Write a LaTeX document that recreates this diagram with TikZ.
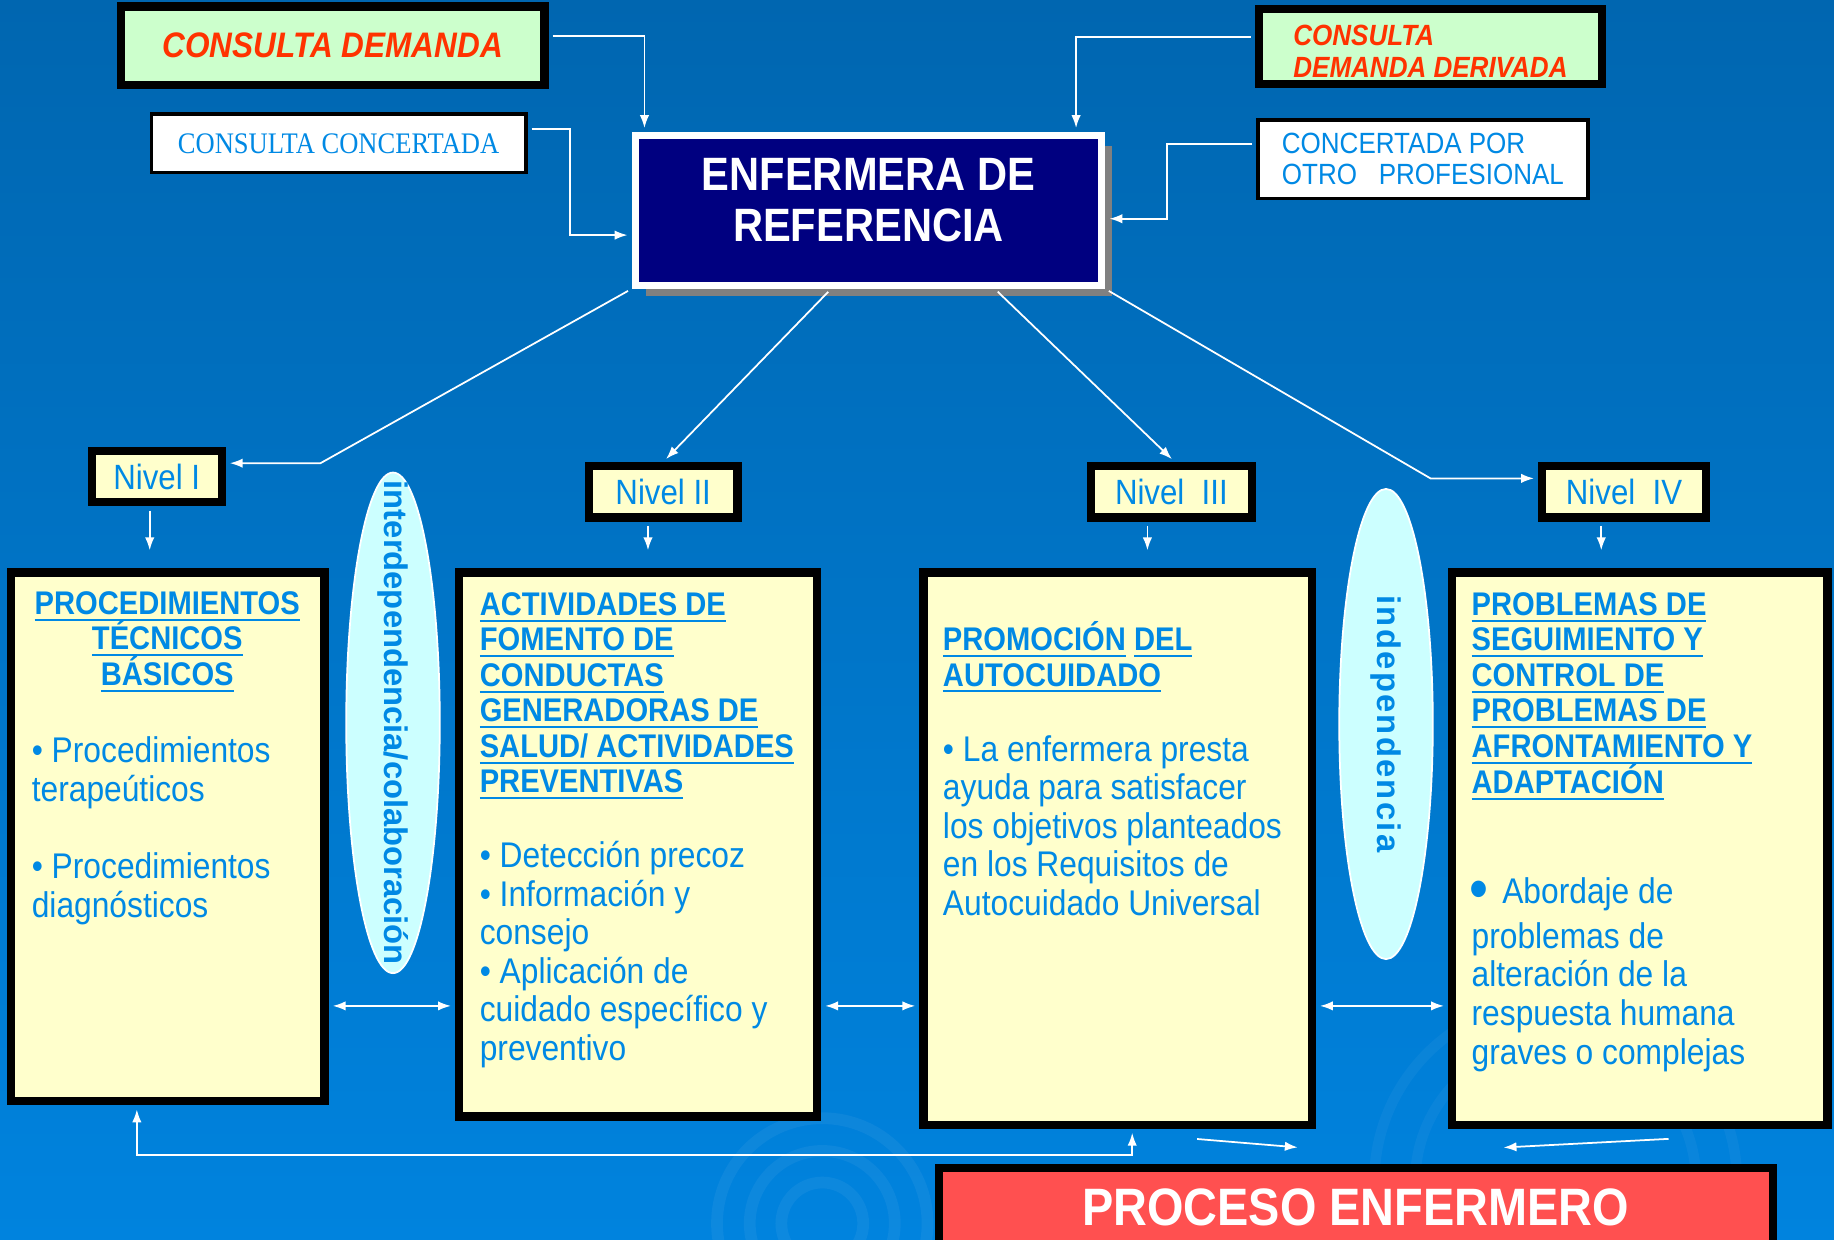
\documentclass[tikz,border=0pt]{standalone}
\usepackage{fontspec}
\usepackage{tikz}
\usetikzlibrary{arrows.meta,shapes.geometric,shadows}
\setmainfont{Liberation Sans}[FakeStretch=0.89]
\newfontfamily\narrowserif{Liberation Serif}[FakeStretch=0.89]
\newfontfamily\plainsans{Liberation Sans}
\newfontfamily\spacedsans{Liberation Sans}[LetterSpace=7]
\definecolor{bgtop}{RGB}{0,102,176}
\definecolor{bgbot}{RGB}{0,131,222}
\definecolor{txtblue}{RGB}{0,137,228}
\definecolor{redtxt}{RGB}{255,51,0}
\definecolor{mint}{RGB}{204,255,204}
\definecolor{cream}{RGB}{255,255,204}
\definecolor{navybox}{RGB}{0,0,128}
\definecolor{paleblue}{RGB}{204,255,255}
\definecolor{redbox}{RGB}{255,80,80}
\newcommand{\topstrut}{\rule{0pt}{26pt}}
\newcommand{\uln}[1]{\setbox0\hbox{#1}\rlap{\rule[-5.5pt]{\wd0}{1.8pt}}\box0\relax}

\begin{document}
\begin{tikzpicture}[x=1pt,y=-1pt,
    conn/.style={white,line width=1.5pt,shorten <=3.5pt,shorten >=3.5pt,-{Latex[length=11pt,width=8pt]}},
    dconn/.style={white,line width=1.5pt,shorten <=3.5pt,shorten >=3.5pt,{Latex[length=11pt,width=8pt]}-{Latex[length=11pt,width=8pt]}},
    greenbox/.style={draw=black,line width=7pt,fill=mint,inner sep=0pt,text=redtxt},
    whitebox/.style={draw=black,line width=3pt,fill=white,inner sep=0pt,text=txtblue},
    levelbox/.style={draw=black,line width=7pt,fill=cream,inner sep=0pt,text=txtblue,font=\fontsize{30}{33}\selectfont},
    bigbox/.style={draw=black,line width=7pt,fill=cream,inner sep=0pt},
    boxtext/.style={anchor=north west,inner sep=0pt,text=txtblue,align=left},
    bubble/.style={ellipse,draw=white,line width=1.5pt,fill=paleblue,inner sep=0pt},
    bubbletext/.style={rotate=-90,inner sep=0pt,text=txtblue}]
    \useasboundingbox (0,0) rectangle (1568,1060);
    \shade[top color=bgtop,middle color=bgtop,bottom color=bgbot] (0,0) rectangle (1568,1060);
    \draw[white,opacity=0.05,line width=10pt] (703,1046) circle (35);
    \draw[white,opacity=0.05,line width=10pt] (703,1046) circle (62);
    \draw[white,opacity=0.05,line width=10pt] (703,1046) circle (90);
    \draw[white,opacity=0.04,line width=9pt] (1330,1010) circle (120);
    \draw[white,opacity=0.04,line width=9pt] (1330,1010) circle (155);

    \node[greenbox,minimum width=362,minimum height=67,font=\fontsize{30.3}{33}\selectfont\bfseries\itshape] (cd) at (284.5,39) {CONSULTA DEMANDA};
    \node[whitebox,minimum width=320,minimum height=50,font=\narrowserif\fontsize{25.5}{28}\selectfont] (cc) at (289.5,122.5) {CONSULTA CONCERTADA};
    \node[greenbox,minimum width=293,minimum height=64,align=left,font=\fontsize{25}{27}\selectfont\bfseries\itshape] (cdd) at (1223,39.5) {\rule{0pt}{26pt}CONSULTA\\DEMANDA DERIVADA};
    \node[whitebox,minimum width=282,minimum height=67,align=left,font=\fontsize{25}{27}\selectfont] (cop) at (1216.5,136) {CONCERTADA POR\\OTRO\ \ \ PROFESIONAL};
    \node[draw=white,line width=6pt,fill=navybox,text=white,inner sep=0pt,align=center,
          font=\fontsize{40}{43}\selectfont\bfseries,minimum width=399,minimum height=128,
          general shadow={fill=gray,shadow xshift=9pt,shadow yshift=-9pt}] (enf) at (742.5,180)
          {ENFERMERA DE\\REFERENCIA\rule[-18pt]{0pt}{18pt}};

    \node[levelbox,minimum width=111,minimum height=44] (n1) at (134,407.5) {Nivel I};
    \node[levelbox,minimum width=127,minimum height=44] (n2) at (567,420.5) {Nivel II};
    \node[levelbox,minimum width=138,minimum height=44] (n3) at (1001.5,420.5) {Nivel\ \ III};
    \node[levelbox,minimum width=140,minimum height=44] (n4) at (1388.5,420.5) {Nivel\ \ IV};

    \node[bigbox,minimum width=268,minimum height=452] (b1) at (143.5,715.5) {};
    \node[bigbox,minimum width=306,minimum height=465] (b2) at (545.5,722) {};
    \node[bigbox,minimum width=332,minimum height=472] (b3) at (955.5,725.5) {};
    \node[bigbox,minimum width=321,minimum height=472] (b4) at (1402,725.5) {};

    \node[boxtext,anchor=north,align=center,font=\fontsize{28}{30.5}\selectfont\bfseries] (t1) at (143,499)
        {\topstrut\uln{PROCEDIMIENTOS}\\\uln{TÉCNICOS}\\\uln{BÁSICOS}};
    \node[boxtext,font=\fontsize{30.5}{33}\selectfont] (p1) at (27,626)
        {\topstrut• Procedimientos\\terapeúticos\\[33pt]• Procedimientos\\diagnósticos};
    \node[boxtext,font=\fontsize{28}{30.3}\selectfont\bfseries] (t2) at (410,500)
        {\topstrut\uln{ACTIVIDADES DE}\\\uln{FOMENTO DE}\\\uln{CONDUCTAS}\\\uln{GENERADORAS DE}\\\uln{SALUD/ ACTIVIDADES}\\\uln{PREVENTIVAS}};
    \node[boxtext,font=\fontsize{30.5}{33}\selectfont] (p2) at (410,715.5)
        {\topstrut• Detección precoz\\• Información y\\consejo\\• Aplicación de\\cuidado específico y\\preventivo};
    \node[boxtext,font=\fontsize{28}{30.3}\selectfont\bfseries] (t3) at (806,530)
        {\topstrut\uln{PROMOCIÓN} \uln{DEL}\\\uln{AUTOCUIDADO}};
    \node[boxtext,font=\fontsize{30.5}{33}\selectfont] (p3) at (806,624.5)
        {\topstrut• La enfermera presta\\ayuda para satisfacer\\los objetivos planteados\\en los Requisitos de\\Autocuidado Universal};
    \node[boxtext,font=\fontsize{28}{30.3}\selectfont\bfseries] (t4) at (1258,500)
        {\topstrut\uln{PROBLEMAS DE}\\\uln{SEGUIMIENTO Y}\\\uln{CONTROL DE}\\\uln{PROBLEMAS DE}\\\uln{AFRONTAMIENTO Y}\\\uln{ADAPTACIÓN}};
    \node[boxtext,font=\fontsize{30.5}{33}\selectfont] (p4) at (1258,746.5)
        {\topstrut\hspace{-2pt}{\raisebox{-5pt}{\fontsize{52}{52}\selectfont•}}\hspace{12pt}Abordaje de\\[5pt]problemas de\\alteración de la\\respuesta humana\\graves o complejas};

    \node[bubble,minimum width=80,minimum height=428] (link1) at (336,618) {};
    \node[bubbletext,font=\plainsans\fontsize{28}{30}\selectfont\bfseries] (link1txt) at (link1.center) {interdependencia/colaboración};
    \node[bubble,minimum width=80,minimum height=402] (link2) at (1185,619) {};
    \node[bubbletext,font=\spacedsans\fontsize{28}{30}\selectfont\bfseries] (link2txt) at (link2.center) {independencia};

    \node[draw=black,line width=7pt,fill=redbox,text=white,inner sep=0pt,font=\fontsize{45}{48}\selectfont\bfseries,
          minimum width=713,minimum height=67.5] (proc) at (1159,1032) {PROCESO ENFERMERO};

    \draw[conn] ([yshift=8pt]cd.east) -| ([xshift=11pt]enf.north west);
    \draw[conn] ([yshift=12pt]cc.east) -| ([xshift=-53pt,yshift=-21pt]enf.west) -- ([yshift=-21pt]enf.west);
    \draw[conn] ([yshift=8pt]cdd.west) -| ([xshift=-25pt]enf.north east);
    \draw[conn] ([yshift=13pt]cop.west) -| ([xshift=53pt,yshift=-7pt]enf.east) -- ([yshift=-7pt]enf.east);

    \draw[conn] (enf.south west) -- ([xshift=81pt,yshift=11.5pt]n1.east) -- ([yshift=11.5pt]n1.east);
    \draw[conn] ([xshift=-32pt]enf.south) -- (n2.north);
    \draw[conn] ([xshift=108pt]enf.south) -- ([xshift=3pt]n3.north);
    \draw[conn] (enf.south east) -- ([xshift=-92pt,yshift=11.5pt]n4.west) -- ([yshift=11.5pt]n4.west);

    \draw[conn] ([xshift=-6pt]n1.south) -- ([xshift=-15.5pt,yshift=12pt]b1.north);
    \draw[conn] ([xshift=-13pt]n2.south) -- ([xshift=8.5pt,yshift=12pt]b2.north);
    \draw[conn] ([xshift=-20.5pt]n3.south) -- ([xshift=25.5pt,yshift=12pt]b3.north);
    \draw[conn] ([xshift=-19.5pt]n4.south) -- ([xshift=-33pt,yshift=12pt]b4.north);

    \coordinate (midrow) at (0,860);
    \draw[dconn] (b1.east |- midrow) -- (b2.west |- midrow);
    \draw[dconn] (b2.east |- midrow) -- (b3.west |- midrow);
    \draw[dconn] (b3.east |- midrow) -- (b4.west |- midrow);

    \draw[dconn] ([xshift=-26.5pt]b1.south) |- ([xshift=12.5pt,yshift=-22.5pt]b3.south) -- ([xshift=12.5pt]b3.south);
    \draw[conn] ([xshift=64.5pt,yshift=-8.5pt]b3.south) -- ([xshift=-46pt,yshift=13.5pt]proc.north);
    \draw[conn] ([xshift=28pt,yshift=-8.5pt]b4.south) -- ([xshift=123pt,yshift=13.5pt]proc.north);
\end{tikzpicture}
\end{document}
